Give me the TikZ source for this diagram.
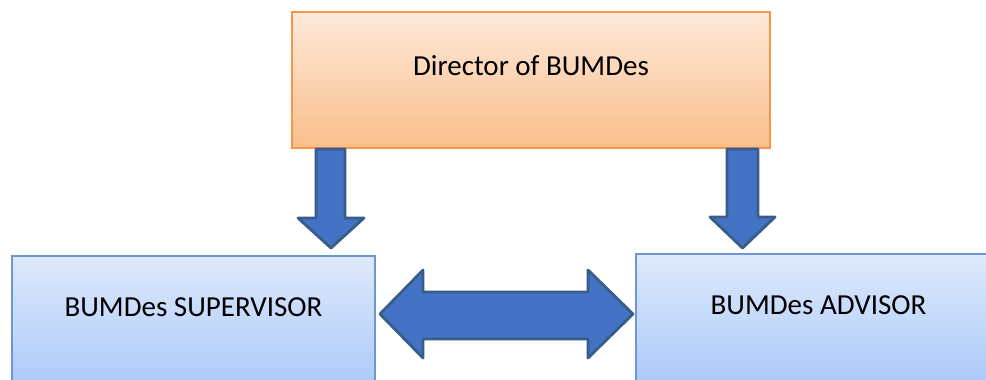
\documentclass[tikz,border=0pt]{standalone}
\usepackage{fontspec}
\setmainfont{Carlito}
\begin{document}
\begin{tikzpicture}[x=1pt,y=-1pt,
  orangebox/.style={draw=orangeedge, line width=1.2pt, top color=orangetop, bottom color=orangebot, inner sep=0pt},
  bluebox/.style={draw=blueedge, line width=1.2pt, top color=bluetop, bottom color=bluebot, inner sep=0pt},
  boxtext/.style={font=\fontsize{29}{34}\selectfont, inner sep=0pt},
  blockarrow/.style={fill=arrowfill, draw=arrowedge, line width=2.8pt, line join=round}]
\definecolor{orangetop}{RGB}{253,233,217}
\definecolor{orangebot}{RGB}{251,190,140}
\definecolor{orangeedge}{RGB}{247,150,70}
\definecolor{bluetop}{RGB}{222,233,251}
\definecolor{bluebot}{RGB}{168,199,250}
\definecolor{blueedge}{RGB}{110,150,210}
\definecolor{arrowfill}{RGB}{68,114,196}
\definecolor{arrowedge}{RGB}{56,93,138}
\clip (0,0) rectangle (986,380);
\node[orangebox, minimum width=478pt, minimum height=136pt] (dir) at (531,80) {};
\node[boxtext] (dirt) at (531,66) {Director of BUMDes};
\node[bluebox, minimum width=363pt, minimum height=140pt] (sup) at (193.5,326) {};
\node[boxtext] (supt) at (193.5,307) {BUMDes SUPERVISOR};
\node[bluebox, minimum width=360pt, minimum height=140pt] (adv) at (816,324) {};
\node[boxtext] (advt) at (818.5,305) {BUMDes ADVISOR};
% down arrows
\draw[blockarrow] (316,149) -- (345,149) -- (345,218) -- (364,218) -- (331,248) -- (298,218) -- (316,218) -- cycle;
\draw[blockarrow] (727,149) -- (758,149) -- (758,217) -- (775,217) -- (742.5,248) -- (710,217) -- (727,217) -- cycle;
% double arrow
\draw[blockarrow] (380,314) -- (423,270) -- (423,292) -- (588,292) -- (588,270) -- (633,314) -- (588,358) -- (588,339) -- (423,339) -- (423,358) -- cycle;
\end{tikzpicture}
\end{document}
